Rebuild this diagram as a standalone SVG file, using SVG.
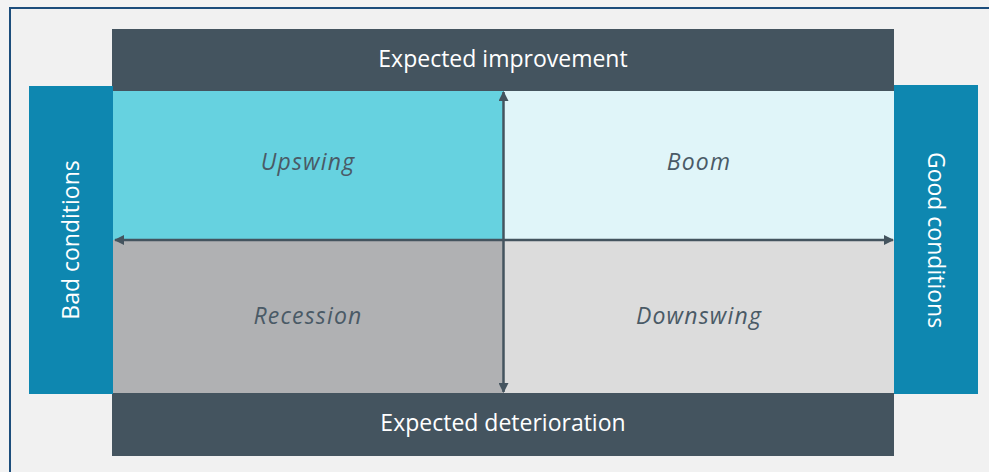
<svg xmlns="http://www.w3.org/2000/svg" width="989" height="472" viewBox="0 0 989 472">
<style>
.bar{fill:#44545f}
.side{fill:#0e87b0}
.hd{font-family:"Open Sans",Lato,sans-serif;font-size:23px;fill:#ffffff;text-anchor:middle}
.q{font-family:"Open Sans",Lato,sans-serif;font-size:23px;font-style:italic;letter-spacing:1.2px;fill:#4a5a66;text-anchor:middle}
.ax{stroke:#44545f;stroke-width:2.5;fill:none}
</style>
<defs>
<marker id="ah" viewBox="0 0 10 10" refX="9" refY="5" markerWidth="4" markerHeight="4" orient="auto-start-reverse" markerUnits="strokeWidth">
<path d="M0,0 L10,5 L0,10 z" fill="#44545f"/>
</marker>
</defs>
<rect x="0" y="0" width="989" height="472" fill="#f3f3f3"/>
<rect x="10" y="8" width="990" height="480" fill="#f1f1f1" stroke="#1d4e7c" stroke-width="2"/>
<g id="improvement"><rect class="bar" x="112" y="29" width="782" height="62"/><text class="hd" x="503" y="67">Expected improvement</text></g>
<g id="deterioration"><rect class="bar" x="112" y="393" width="782" height="63"/><text class="hd" x="503" y="431">Expected deterioration</text></g>
<g id="bad"><rect class="side" x="29" y="86" width="84" height="308"/><text class="hd" transform="translate(79,240) rotate(-90)">Bad conditions</text></g>
<g id="good"><rect class="side" x="894" y="85" width="84" height="309"/><text class="hd" transform="translate(928,240) rotate(90)">Good conditions</text></g>
<g id="upswing"><rect x="113" y="91" width="391" height="149" fill="#66d2e0"/><text class="q" x="308" y="170">Upswing</text></g>
<g id="boom"><rect x="504" y="91" width="390" height="149" fill="#e0f5f9"/><text class="q" x="699" y="170">Boom</text></g>
<g id="recession"><rect x="113" y="240" width="391" height="153" fill="#b0b1b3"/><text class="q" x="308" y="324">Recession</text></g>
<g id="downswing"><rect x="504" y="240" width="390" height="153" fill="#dcdcdc"/><text class="q" x="699" y="324">Downswing</text></g>
<g id="connectors">
<line class="ax" x1="503.5" y1="392" x2="503.5" y2="92" marker-start="url(#ah)" marker-end="url(#ah)"/>
<line class="ax" x1="115" y1="240" x2="893" y2="240" marker-start="url(#ah)" marker-end="url(#ah)"/>
</g>
</svg>
